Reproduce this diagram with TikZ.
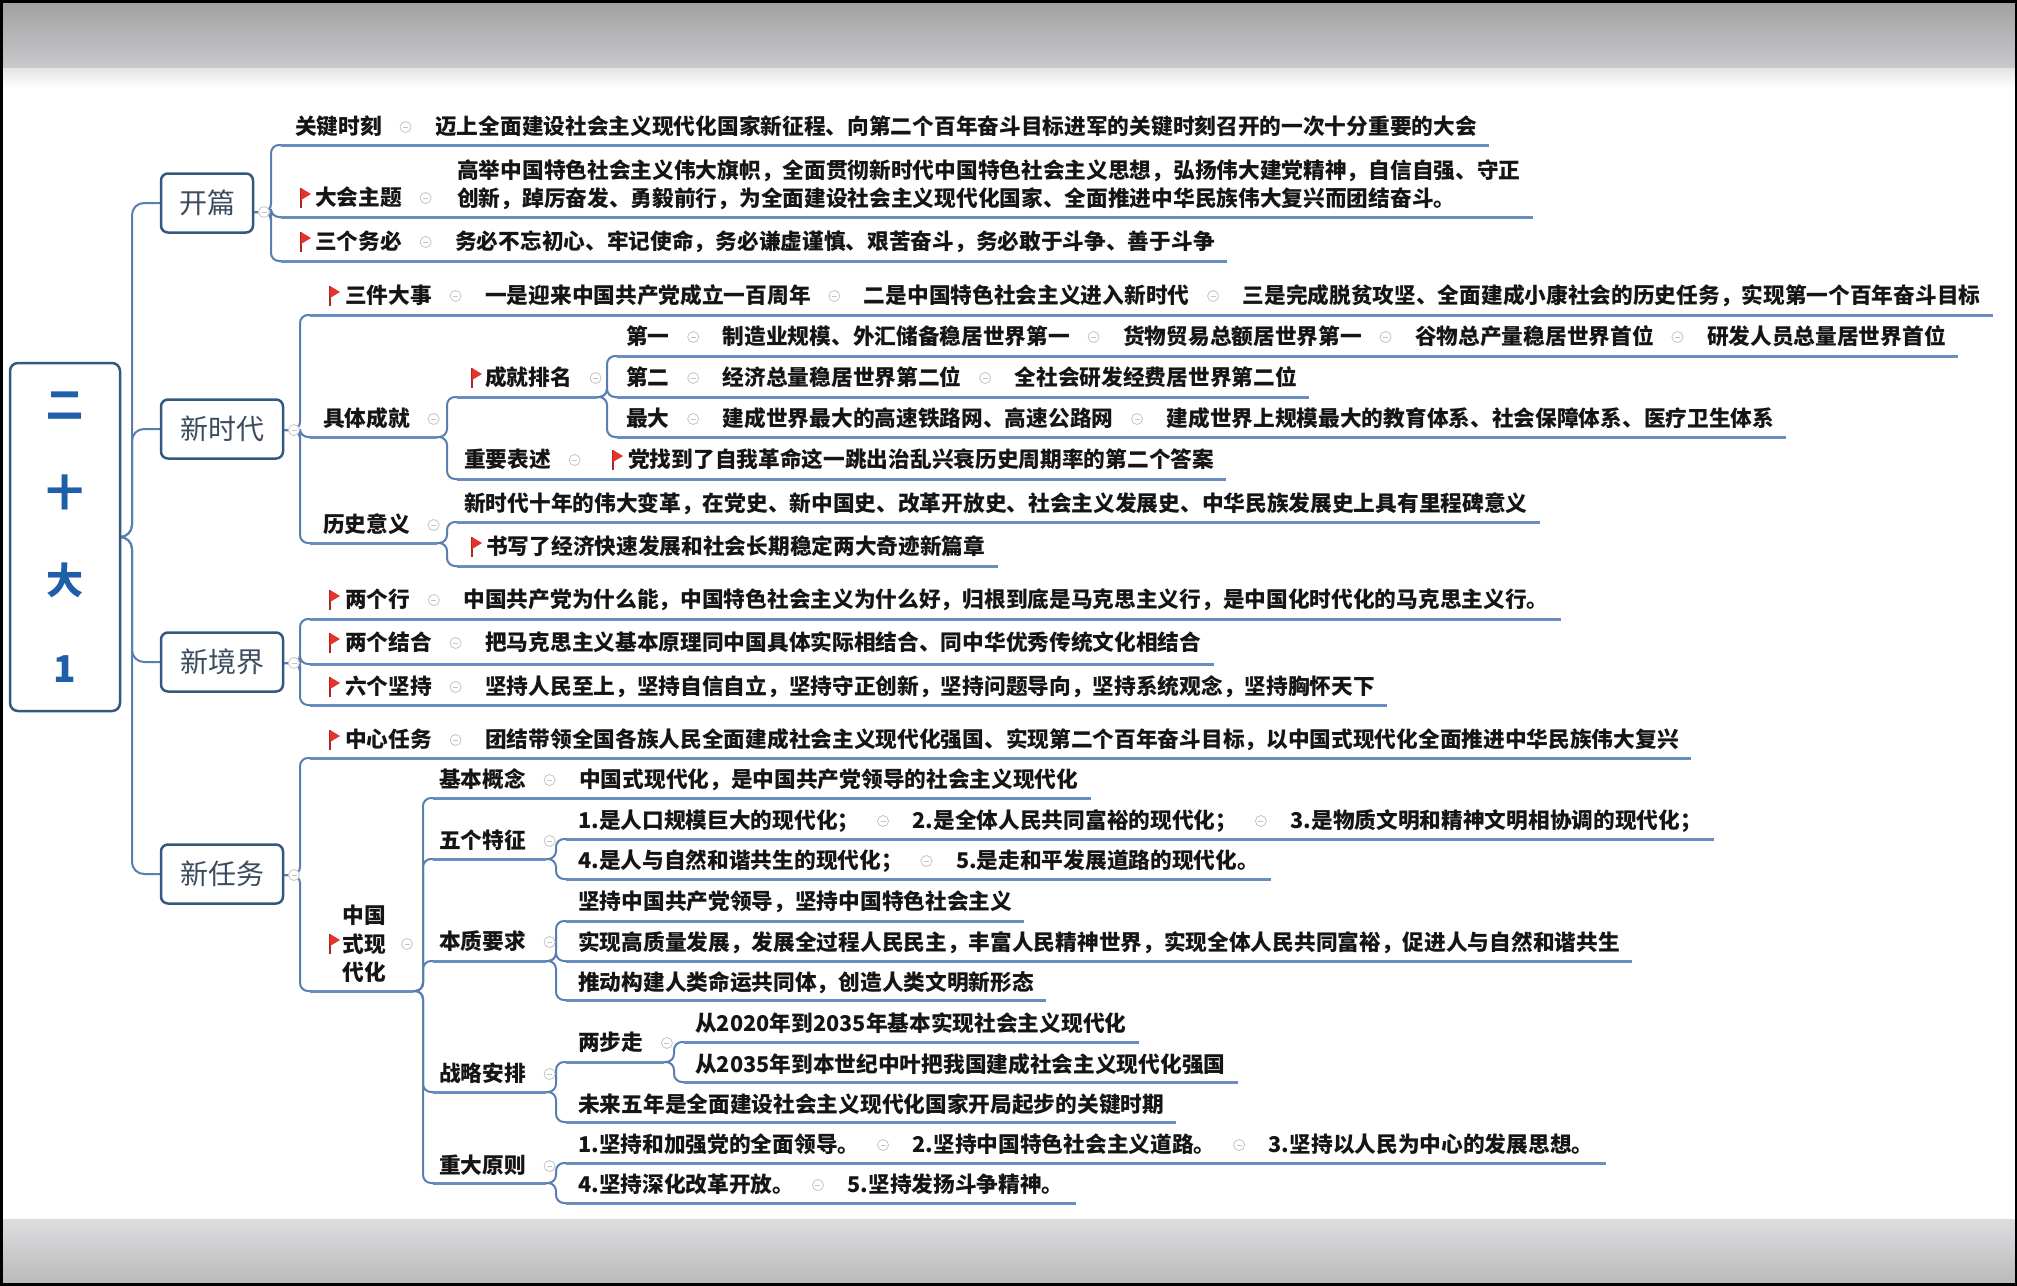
\documentclass[tikz,border=0pt]{standalone}
\usepackage{fontspec}
\setmainfont{Noto Sans CJK SC}
\usetikzlibrary{positioning}
\pgfdeclarelayer{bgl}\pgfdeclarelayer{lnl}\pgfsetlayers{bgl,lnl,main}
\definecolor{txt}{HTML}{151515}
\definecolor{l1t}{HTML}{3C4C5E}
\definecolor{rootc}{HTML}{1F5EA8}
\definecolor{boxc}{HTML}{34587F}
\definecolor{cc}{HTML}{5A7EB0}
\definecolor{ulc}{HTML}{6A8DC0}
\definecolor{cbc}{HTML}{C4C4C4}
\definecolor{flagc}{HTML}{E5322D}
\definecolor{bandA}{HTML}{A0A0A1}
\definecolor{bandB}{HTML}{C8C9CB}
\definecolor{bandC}{HTML}{E4E4E5}
\definecolor{bandD}{HTML}{DCDDDF}
\definecolor{bandE}{HTML}{B9B9BA}
\tikzset{
  t/.style={font=\bfseries\fontsize{21.7}{28}\selectfont, text=txt, inner sep=0pt, text height=18pt, text depth=2.2pt, anchor=west},
  tm/.style={font=\bfseries\fontsize{21.7}{28}\selectfont, text=txt, inner sep=0pt, align=left, anchor=west},
  tc/.style={font=\bfseries\fontsize{21.7}{28.5}\selectfont, text=txt, inner sep=0pt, align=center},
  cb/.style={circle, draw=cbc, line width=0.8pt, fill=white, minimum size=11pt, inner sep=0pt,
    path picture={\draw[cbc, line width=0.8pt] ([xshift=-2.5pt]path picture bounding box.center) -- ([xshift=2.5pt]path picture bounding box.center);}},
  l1box/.style={draw=boxc, line width=2.5pt, fill=white, rounded corners=7pt, minimum width=122pt, minimum height=59pt, inner sep=0pt, font=\fontsize{28}{30}\selectfont, text=l1t},
  rootbox/.style={draw=boxc, line width=2.5pt, fill=white, rounded corners=8pt, minimum width=110pt, minimum height=348pt, inner sep=0pt, align=center, font=\bfseries\fontsize{37}{88}\selectfont, text=rootc},
  conn/.style={draw=cc, line width=2pt, rounded corners=8pt},
  ul/.style={draw=ulc, line width=3pt},
  redflag/.pic={\draw[line width=1.6pt, draw=flagc!75!black] (0,-10) -- (0,10); \fill[flagc] (0,-10) -- (10,-4) -- (0,2) -- cycle;}
}
\newcommand\nxt[3]{\node[cb, right=17.5pt of #1] (#2c) {}; \node[t, right=23.5pt of #2c] (#2) {#3};}
\newcommand\ulin[2]{\draw[ul] (#1) -- (#1 -| #2.east) -- ++(12,0);}
\begin{document}
\begin{tikzpicture}[x=1pt,y=-1pt]
\useasboundingbox (0,0) rectangle (2017,1285);
\begin{pgfonlayer}{bgl}
\fill[white] (0,0) rectangle (2017,1285);
\shade[top color=bandA, bottom color=bandB] (0,0) rectangle (2017,68);
\shade[top color=bandC, bottom color=white] (0,68) rectangle (2017,88);
\shade[top color=bandD, bottom color=bandE] (0,1219) rectangle (2017,1285);
\draw[line width=5pt, black] (0,0) rectangle (2017,1285);
\end{pgfonlayer}

% root and level 1
\node[rootbox] (root) at (65,537) {二\\十\\大\\1};
\node[l1box, minimum width=92pt] (kp) at (207,203) {开篇};
\node[l1box] (xsd) at (222,429) {新时代};
\node[l1box] (xjj) at (222,662) {新境界};
\node[l1box] (xrw) at (222,874) {新任务};
\node[cb] (kpc) at (264,212) {};
\node[cb] (xsdc) at (294,430) {};
\node[cb] (xjjc) at (294,663) {};
\node[cb] (xrwc) at (294,875) {};

% ---- 开篇
\coordinate (uk1) at (281,145);
\coordinate (uk2) at (281,217);
\coordinate (uk3) at (281,261);
\node[t] (k1) at (295,127) {关键时刻};
\nxt{k1}{k1a}{迈上全面建设社会主义现代化国家新征程、向第二个百年奋斗目标进军的关键时刻召开的一次十分重要的大会}
\pic at (301,198) {redflag};
\node[t] (k2) at (315,198) {大会主题};
\node[cb, right=17.5pt of k2] (k2c) {};
\node[tm] (k2a) at (457,185) {高举中国特色社会主义伟大旗帜，全面贯彻新时代中国特色社会主义思想，弘扬伟大建党精神，自信自强、守正\\创新，踔厉奋发、勇毅前行，为全面建设社会主义现代化国家、全面推进中华民族伟大复兴而团结奋斗。};
\pic at (301,242) {redflag};
\node[t] (k3) at (315,242) {三个务必};
\nxt{k3}{k3a}{务必不忘初心、牢记使命，务必谦虚谨慎、艰苦奋斗，务必敢于斗争、善于斗争}

% ---- 新时代
\coordinate (us1) at (310,315);
\coordinate (us2) at (310,437);
\coordinate (us3) at (310,543);
\pic at (330,296) {redflag};
\node[t] (s1) at (345,296) {三件大事};
\nxt{s1}{s1a}{一是迎来中国共产党成立一百周年}
\nxt{s1a}{s1b}{二是中国特色社会主义进入新时代}
\nxt{s1b}{s1c}{三是完成脱贫攻坚、全面建成小康社会的历史任务，实现第一个百年奋斗目标}

\node[t] (s2) at (323,419) {具体成就};
\node[cb, right=17.5pt of s2] (s2c) {};
\coordinate (s2p) at (437,437);
\coordinate (u21) at (457,397);
\coordinate (u22) at (457,479);
\pic at (472,378) {redflag};
\node[t] (s21) at (485,378) {成就排名};
\node[cb, right=17.5pt of s21] (s21c) {};
\coordinate (s21p) at (597,397);
\coordinate (u211) at (617,356);
\coordinate (u212) at (617,397);
\coordinate (u213) at (617,437);
\node[t] (a1) at (626,337) {第一};
\nxt{a1}{a1a}{制造业规模、外汇储备稳居世界第一}
\nxt{a1a}{a1b}{货物贸易总额居世界第一}
\nxt{a1b}{a1c}{谷物总产量稳居世界首位}
\nxt{a1c}{a1d}{研发人员总量居世界首位}
\node[t] (a2) at (626,378) {第二};
\nxt{a2}{a2a}{经济总量稳居世界第二位}
\nxt{a2a}{a2b}{全社会研发经费居世界第二位}
\node[t] (a3) at (626,419) {最大};
\nxt{a3}{a3a}{建成世界最大的高速铁路网、高速公路网}
\nxt{a3a}{a3b}{建成世界上规模最大的教育体系、社会保障体系、医疗卫生体系}
\node[t] (s22) at (464,460) {重要表述};
\node[cb, right=17.5pt of s22] (s22c) {};
\pic at (613,460) {redflag};
\node[t] (s22a) at (628,460) {党找到了自我革命这一跳出治乱兴衰历史周期率的第二个答案};

\node[t] (s3) at (323,525) {历史意义};
\node[cb, right=17.5pt of s3] (s3c) {};
\coordinate (s3p) at (437,543);
\coordinate (u31) at (457,522);
\coordinate (u32) at (457,566);
\node[t] (s31) at (464,504) {新时代十年的伟大变革，在党史、新中国史、改革开放史、社会主义发展史、中华民族发展史上具有里程碑意义};
\pic at (472,547) {redflag};
\node[t] (s32) at (486,547) {书写了经济快速发展和社会长期稳定两大奇迹新篇章};

% ---- 新境界
\coordinate (uj1) at (310,619);
\coordinate (uj2) at (310,664);
\coordinate (uj3) at (310,705);
\pic at (330,600) {redflag};
\node[t] (j1) at (345,600) {两个行};
\nxt{j1}{j1a}{中国共产党为什么能，中国特色社会主义为什么好，归根到底是马克思主义行，是中国化时代化的马克思主义行。}
\pic at (330,643) {redflag};
\node[t] (j2) at (345,643) {两个结合};
\nxt{j2}{j2a}{把马克思主义基本原理同中国具体实际相结合、同中华优秀传统文化相结合}
\pic at (330,687) {redflag};
\node[t] (j3) at (345,687) {六个坚持};
\nxt{j3}{j3a}{坚持人民至上，坚持自信自立，坚持守正创新，坚持问题导向，坚持系统观念，坚持胸怀天下}

% ---- 新任务
\coordinate (ur1) at (310,758);
\coordinate (ur2) at (310,991);
\pic at (330,740) {redflag};
\node[t] (r1) at (345,740) {中心任务};
\nxt{r1}{r1a}{团结带领全国各族人民全面建成社会主义现代化强国、实现第二个百年奋斗目标，以中国式现代化全面推进中华民族伟大复兴}
\pic at (330,944) {redflag};
\node[tc] (r2) at (364,944) {中国\\式现\\代化};
\node[cb] (r2c) at (407,944) {};
\coordinate (r2p) at (413,991);
\coordinate (ub1) at (433,798);
\coordinate (ub2) at (433,859);
\coordinate (ub3) at (433,961);
\coordinate (ub4) at (433,1092);
\coordinate (ub5) at (433,1183);

\node[t] (b1) at (439,780) {基本概念};
\nxt{b1}{b1a}{中国式现代化，是中国共产党领导的社会主义现代化}

\node[t] (b2) at (439,841) {五个特征};
\node[cb, right=17.5pt of b2] (b2c) {};
\coordinate (b2p) at (546,859);
\coordinate (ub21) at (566,839);
\coordinate (ub22) at (566,879);
\node[t] (b21) at (578,821) {1.是人口规模巨大的现代化；};
\nxt{b21}{b21b}{2.是全体人民共同富裕的现代化；}
\nxt{b21b}{b21c}{3.是物质文明和精神文明相协调的现代化；}
\node[t] (b22) at (578,861) {4.是人与自然和谐共生的现代化；};
\nxt{b22}{b22b}{5.是走和平发展道路的现代化。}

\node[t] (b3) at (439,942) {本质要求};
\node[cb, right=17.5pt of b3] (b3c) {};
\coordinate (b3p) at (546,961);
\coordinate (ub31) at (566,921);
\coordinate (ub32) at (566,961);
\coordinate (ub33) at (566,1000);
\node[t] (b31) at (578,902) {坚持中国共产党领导，坚持中国特色社会主义};
\node[t] (b32) at (578,943) {实现高质量发展，发展全过程人民民主，丰富人民精神世界，实现全体人民共同富裕，促进人与自然和谐共生};
\node[t] (b33) at (578,983) {推动构建人类命运共同体，创造人类文明新形态};

\node[t] (b4) at (439,1074) {战略安排};
\node[cb, right=17.5pt of b4] (b4c) {};
\coordinate (b4p) at (546,1092);
\coordinate (ub41) at (566,1062);
\coordinate (ub42) at (566,1122);
\node[t] (b41) at (578,1043) {两步走};
\node[cb, right=17.5pt of b41] (b41c) {};
\coordinate (b41p) at (664,1062);
\coordinate (ub411) at (684,1042);
\coordinate (ub412) at (684,1082);
\node[t] (b411) at (695,1024) {从2020年到2035年基本实现社会主义现代化};
\node[t] (b412) at (695,1065) {从2035年到本世纪中叶把我国建成社会主义现代化强国};
\node[t] (b42) at (578,1105) {未来五年是全面建设社会主义现代化国家开局起步的关键时期};

\node[t] (b5) at (439,1166) {重大原则};
\node[cb, right=17.5pt of b5] (b5c) {};
\coordinate (b5p) at (546,1183);
\coordinate (ub51) at (566,1163);
\coordinate (ub52) at (566,1203);
\node[t] (b51) at (578,1145) {1.坚持和加强党的全面领导。};
\nxt{b51}{b51b}{2.坚持中国特色社会主义道路。}
\nxt{b51b}{b51c}{3.坚持以人民为中心的发展思想。}
\node[t] (b52) at (578,1185) {4.坚持深化改革开放。};
\nxt{b52}{b52b}{5.坚持发扬斗争精神。}

% ================= lines
\begin{pgfonlayer}{lnl}
% trunk
\draw[conn, rounded corners=12pt] (root.east) -- (132,537) |- (kp.west);
\draw[conn, rounded corners=12pt] (root.east) -- (132,537) |- (xsd.west);
\draw[conn, rounded corners=12pt] (root.east) -- (132,537) |- (xjj.west);
\draw[conn, rounded corners=12pt] (root.east) -- (132,537) |- (xrw.west);
% 开篇
\foreach \u in {uk1,uk2,uk3} \draw[conn] (kp.east |- kpc) -- (271,212) |- (\u);
\ulin{uk1}{k1a}
\ulin{uk2}{k2a}
\ulin{uk3}{k3a}
% 新时代
\foreach \u in {us1,us2,us3} \draw[conn] (xsd.east |- xsdc) -- (300,430) |- (\u);
\ulin{us1}{s1c}
\draw[ul] (us2) -- (s2p);
\foreach \u in {u21,u22} \draw[conn] (s2p) -- (447,437) |- (\u);
\draw[ul] (u21) -- (s21p);
\foreach \u in {u211,u212,u213} \draw[conn] (s21p) -- (607,397) |- (\u);
\ulin{u211}{a1d}
\ulin{u212}{a2b}
\ulin{u213}{a3b}
\ulin{u22}{s22a}
\draw[ul] (us3) -- (s3p);
\foreach \u in {u31,u32} \draw[conn] (s3p) -- (447,543) |- (\u);
\ulin{u31}{s31}
\ulin{u32}{s32}
% 新境界
\foreach \u in {uj1,uj2,uj3} \draw[conn] (xjj.east |- xjjc) -- (300,663) |- (\u);
\ulin{uj1}{j1a}
\ulin{uj2}{j2a}
\ulin{uj3}{j3a}
% 新任务
\foreach \u in {ur1,ur2} \draw[conn] (xrw.east |- xrwc) -- (300,875) |- (\u);
\ulin{ur1}{r1a}
\draw[ul] (ur2) -- (r2p);
\foreach \u in {ub1,ub2,ub3,ub4,ub5} \draw[conn] (r2p) -- (423,991) |- (\u);
\ulin{ub1}{b1a}
\draw[ul] (ub2) -- (b2p);
\foreach \u in {ub21,ub22} \draw[conn] (b2p) -- (556,859) |- (\u);
\ulin{ub21}{b21c}
\ulin{ub22}{b22b}
\draw[ul] (ub3) -- (b3p);
\foreach \u in {ub31,ub32,ub33} \draw[conn] (b3p) -- (556,961) |- (\u);
\ulin{ub31}{b31}
\ulin{ub32}{b32}
\ulin{ub33}{b33}
\draw[ul] (ub4) -- (b4p);
\foreach \u in {ub41,ub42} \draw[conn] (b4p) -- (556,1092) |- (\u);
\draw[ul] (ub41) -- (b41p);
\foreach \u in {ub411,ub412} \draw[conn] (b41p) -- (674,1062) |- (\u);
\ulin{ub411}{b411}
\ulin{ub412}{b412}
\ulin{ub42}{b42}
\draw[ul] (ub5) -- (b5p);
\foreach \u in {ub51,ub52} \draw[conn] (b5p) -- (556,1183) |- (\u);
\ulin{ub51}{b51c}
\ulin{ub52}{b52b}
\end{pgfonlayer}
\end{tikzpicture}
\end{document}
